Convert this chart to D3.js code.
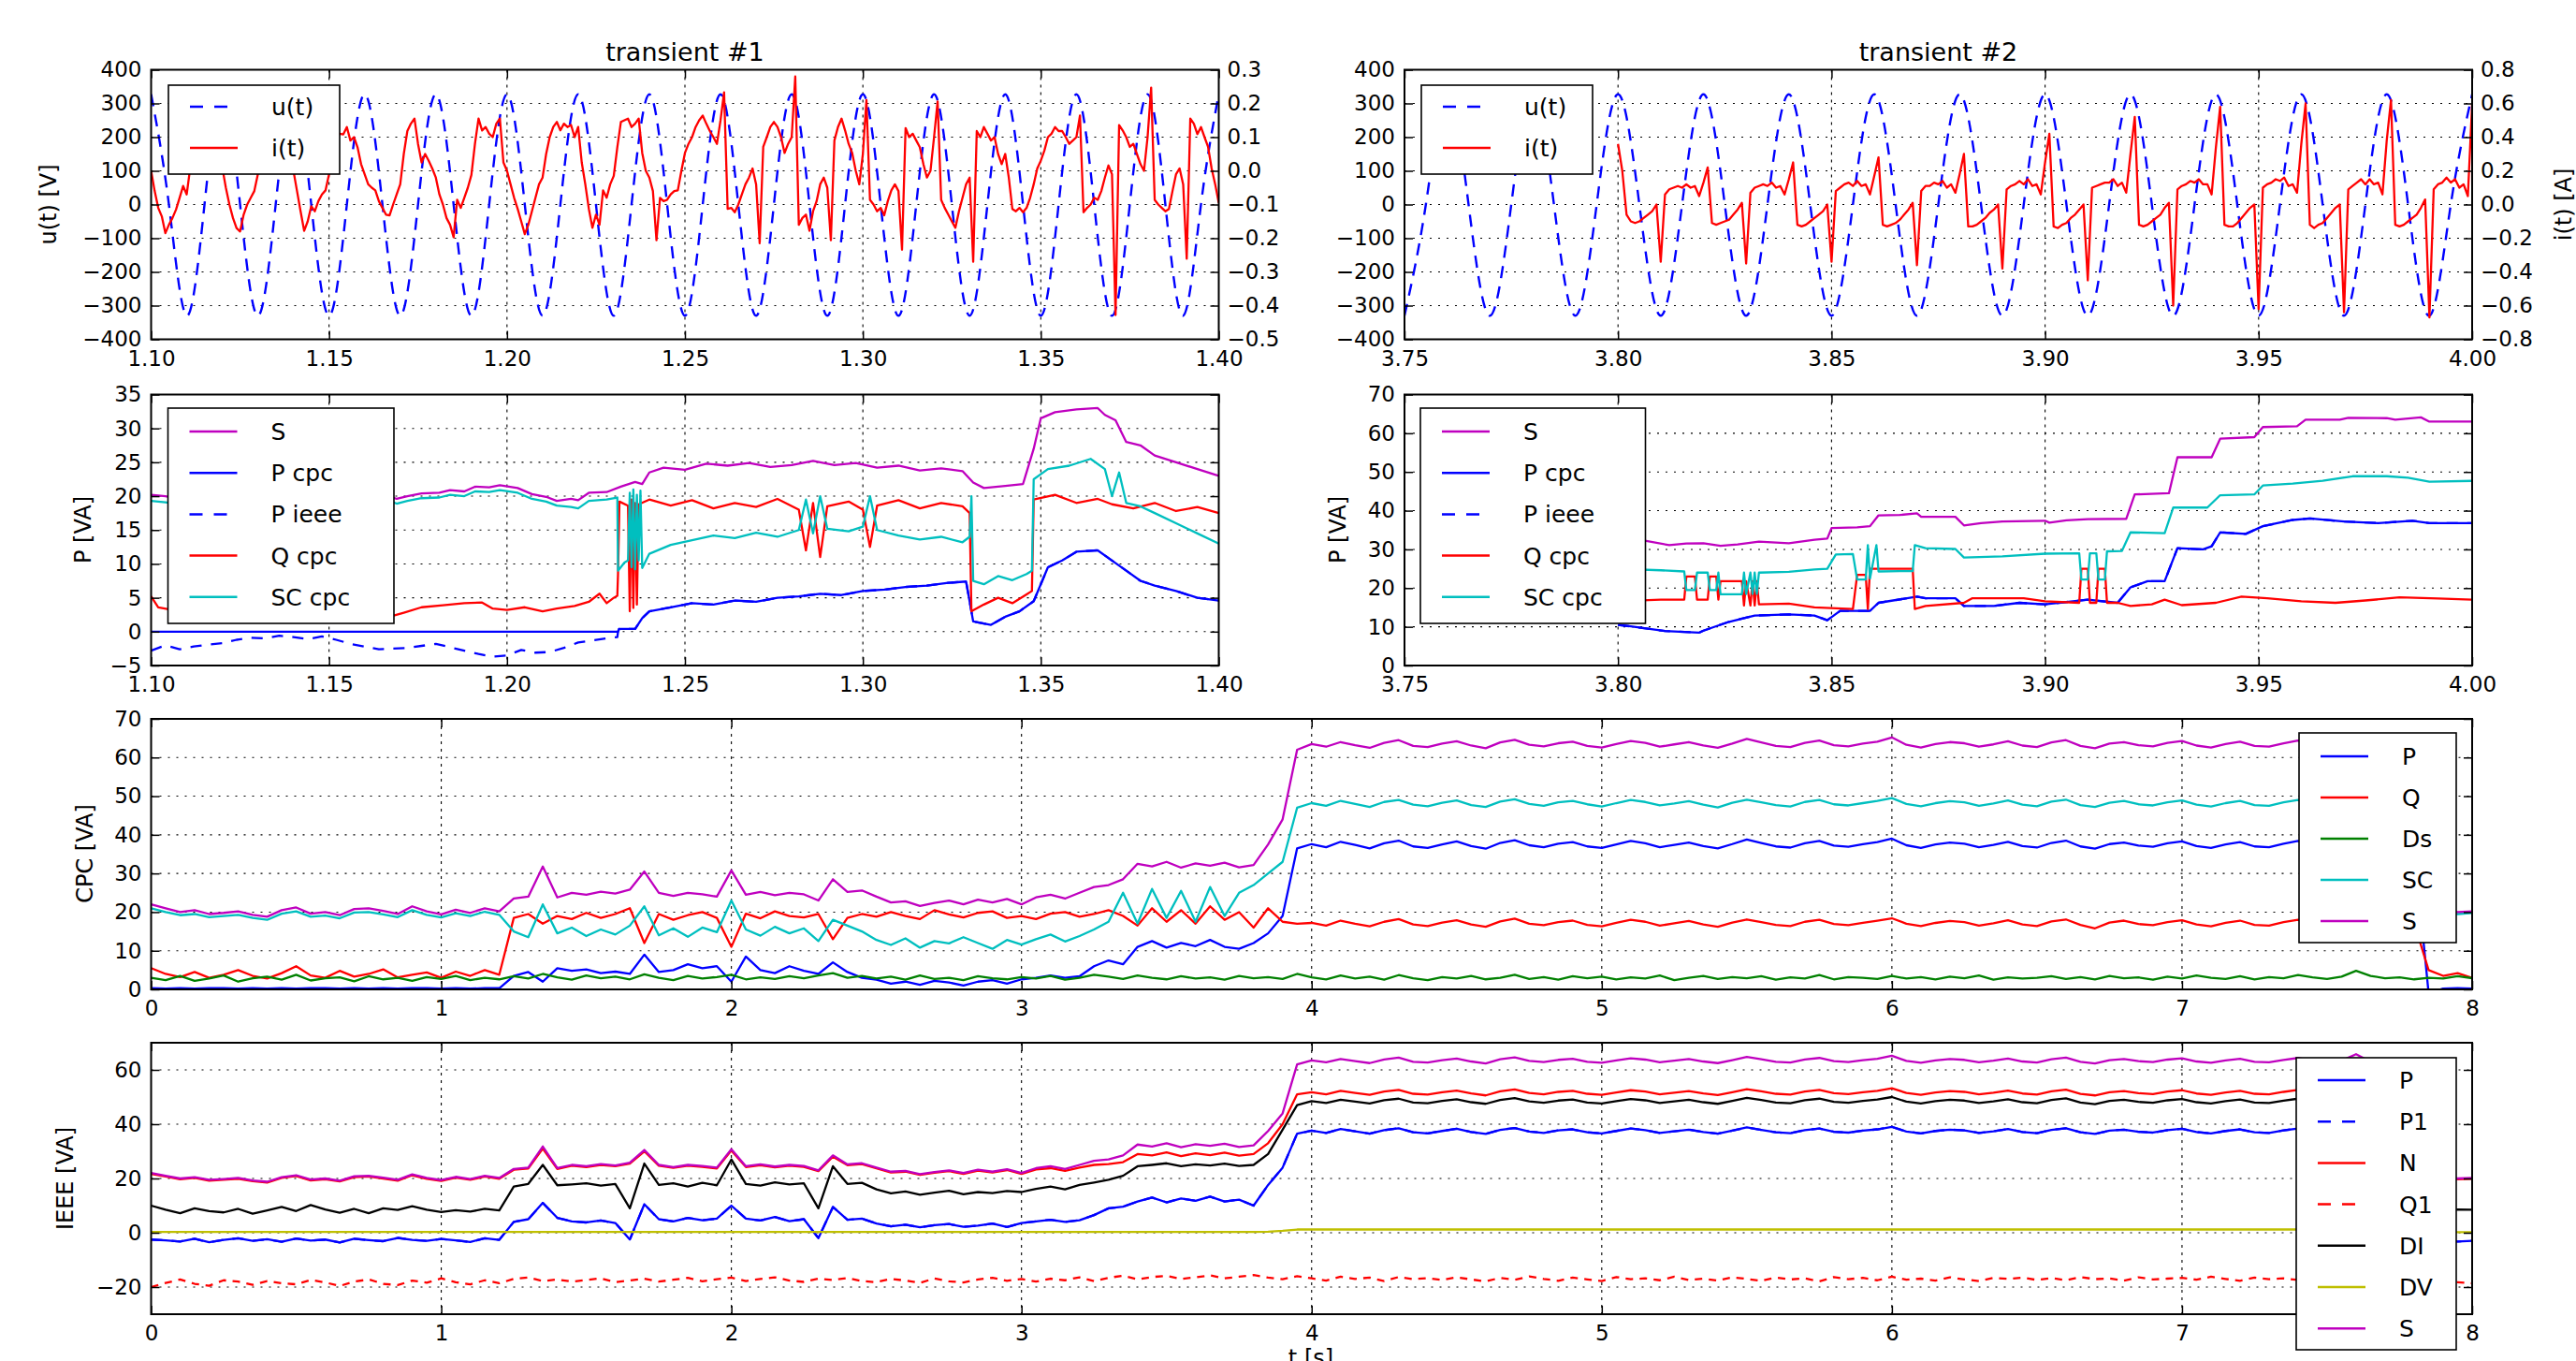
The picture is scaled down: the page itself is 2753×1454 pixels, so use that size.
<!DOCTYPE html>
<html>
<head>
<meta charset="utf-8">
<script src="https://cdn.jsdelivr.net/npm/d3@7/dist/d3.min.js"></script>
<style>
body{margin:0;background:#fff;}
svg text{font-family:"DejaVu Sans",sans-serif;fill:#000;}
</style>
</head>
<body>
<script>
// ---------- transient #1 : 1.10 .. 1.40 s ----------
var u1Start = 1.10, uStep = 0.005;          // supply voltage every 5 ms [V]
var u1 = [327,0,-330,0, 327,0,-330,0, 327,0,-330,0, 327,0,-330,0, 327,0,-330,0,
          327,0,-330,0, 327,0,-330,0, 327,0,-330,0, 327,0,-330,0, 327,0,-330,0,
          327,0,-330,0, 327,0,-330,0, 327,0,-330,0, 327,0,-330,0, 327,0,-330,0, 327];
var i1Start = 1.100, iStep = 0.001;         // load current every 1 ms [mA]
var i1 = [
  0,-60,-110,-135,-185,-160,-140,-115,-80,-45,-70,10,90,130,110,140,100,120,70,50,
  10,-50,-100,-140,-170,-180,-130,-100,-80,-60,-10,60,120,150,130,110,140,90,60,20,
  0,-60,-120,-178,-150,-105,-120,-90,-70,-58,-10,50,100,110,108,130,90,100,70,20,
  -10,-40,-50,-58,-90,-110,-130,-132,-100,-70,-40,50,118,140,155,80,25,50,30,7,
  -20,-70,-100,-140,-160,-197,-86,-110,-80,-50,-12,80,155,120,130,110,100,140,155,25,
  0,-40,-80,-113,-150,-188,-160,-120,-80,-40,-20,50,100,130,145,120,140,130,136,100,
  130,25,-40,-113,-169,-130,-160,-58,-80,-40,-15,70,145,150,155,130,140,155,53,0,
  -20,-60,-206,-80,-90,-86,-70,-60,-58,0,53,80,100,130,150,164,140,118,100,80,
  150,233,-113,-110,-123,-100,-70,-40,-20,7,-40,-215,71,100,130,145,130,100,53,80,
  100,280,-160,-140,-130,-178,-120,-90,-40,-20,-50,-206,90,130,155,120,80,53,0,-40,
  50,210,-86,-100,-120,-110,-132,-90,-58,-40,-60,-234,127,100,110,90,70,20,-20,0,
  100,206,-86,-110,-130,-150,-169,-120,-80,-40,-20,-270,118,100,130,110,90,100,50,20,
  50,-20,-113,-120,-110,-123,-110,-80,-40,7,30,60,100,110,130,118,118,100,80,90,
  100,164,-123,-110,-100,-80,-86,-60,-20,16,-10,-428,136,120,100,71,80,50,20,0,
  100,247,-86,-100,-110,-120,-113,-60,-10,7,-40,-261,155,140,109,130,100,71,7,-40,
  -95];

// powers during transient #1 [t, VA]
var tr1S = [[1.100,20.2],[1.104,20.0],[1.108,19.6],[1.114,19.4],[1.120,19.8],[1.126,19.5],[1.132,20.0],[1.138,19.7],[1.144,20.3],[1.150,20.4],[1.154,20.1],[1.157,19.6],[1.161,20.3],[1.166,20.2],[1.169,19.6],[1.172,20.0],[1.176,20.4],[1.181,20.5],[1.184,20.9],[1.188,20.7],[1.191,21.4],[1.195,21.3],[1.198,21.6],[1.203,21.2],[1.207,20.3],[1.211,19.9],[1.214,19.3],[1.218,19.6],[1.220,19.4],[1.223,20.5],[1.228,20.6],[1.232,21.4],[1.236,22.1],[1.238,21.8],[1.240,23.5],[1.244,24.2],[1.250,23.9],[1.256,24.8],[1.262,24.5],[1.268,24.9],[1.274,24.3],[1.280,24.6],[1.286,25.2],[1.292,24.6],[1.298,24.9],[1.304,24.2],[1.310,24.5],[1.316,23.8],[1.322,24.1],[1.328,23.7],[1.331,22.0],[1.334,21.2],[1.340,21.5],[1.345,21.8],[1.348,27.0],[1.350,31.5],[1.354,32.4],[1.360,32.8],[1.366,33.0],[1.368,32.0],[1.371,31.2],[1.374,28.0],[1.378,27.5],[1.382,26.0],[1.388,25.0],[1.394,24.0],[1.400,23.0]];
var tr1Pcpc = [[1.100,0],[1.2312,0],[1.2315,0.4],[1.236,0.4],[1.238,2.0],[1.240,3.0],[1.246,3.6],[1.252,4.2],[1.258,4.0],[1.264,4.6],[1.270,4.4],[1.276,5.0],[1.282,5.2],[1.288,5.6],[1.294,5.4],[1.300,6.0],[1.306,6.2],[1.312,6.6],[1.318,6.8],[1.324,7.2],[1.329,7.4],[1.331,1.5],[1.336,1.0],[1.340,2.2],[1.344,3.0],[1.348,4.5],[1.352,9.5],[1.356,10.5],[1.360,11.8],[1.366,12.0],[1.370,10.5],[1.374,9.0],[1.378,7.5],[1.382,6.8],[1.388,6.0],[1.394,5.0],[1.400,4.6]];
var tr1PieeeHead = [[1.100,-2.8],[1.104,-2.0],[1.108,-2.6],[1.112,-2.2],[1.116,-1.9],[1.120,-1.7],[1.124,-1.2],[1.128,-0.9],[1.132,-1.0],[1.136,-0.6],[1.140,-0.8],[1.144,-1.1],[1.148,-0.7],[1.152,-1.2],[1.156,-1.8],[1.160,-2.2],[1.164,-2.6],[1.168,-2.5],[1.172,-2.4],[1.176,-2.1],[1.180,-1.8],[1.184,-2.3],[1.188,-2.8],[1.192,-3.3],[1.196,-3.7],[1.200,-3.5],[1.204,-2.7],[1.208,-3.1],[1.212,-3.0],[1.216,-2.4],[1.220,-1.6],[1.224,-1.3],[1.228,-1.0],[1.231,-0.8]];
var tr1Q = [[1.100,5.2],[1.102,3.6],[1.106,3.2],[1.112,3.8],[1.118,3.4],[1.124,3.0],[1.130,3.6],[1.136,3.2],[1.142,3.5],[1.148,3.0],[1.153,3.2],[1.158,3.0],[1.163,2.6],[1.167,2.2],[1.171,2.8],[1.176,3.6],[1.182,3.9],[1.188,4.2],[1.193,4.3],[1.196,3.4],[1.200,3.2],[1.205,3.6],[1.210,3.0],[1.214,3.4],[1.219,3.8],[1.223,4.4],[1.226,5.6],[1.228,4.2],[1.230,5.0],[1.2310,5.3],[1.2312,8.5],[1.2316,19.2],[1.234,18.6],[1.2345,3.0],[1.235,19.5],[1.2355,3.5],[1.236,19.0],[1.2365,4.0],[1.237,18.8],[1.240,19.5],[1.246,18.6],[1.252,19.4],[1.258,18.2],[1.264,19.0],[1.270,18.4],[1.276,19.6],[1.282,18.0],[1.284,12.0],[1.286,19.0],[1.288,11.0],[1.290,18.5],[1.296,19.2],[1.300,18.0],[1.302,12.5],[1.304,18.6],[1.310,19.4],[1.316,18.2],[1.322,19.0],[1.328,18.5],[1.330,17.5],[1.3305,3.0],[1.334,4.0],[1.338,5.0],[1.342,4.2],[1.346,5.5],[1.3475,6.0],[1.348,19.5],[1.354,20.2],[1.360,19.0],[1.366,19.6],[1.370,18.8],[1.376,18.2],[1.382,19.0],[1.388,17.8],[1.394,18.4],[1.400,17.5]];
var tr1SC = [[1.100,19.3],[1.104,19.1],[1.108,18.8],[1.114,18.7],[1.120,19.1],[1.126,18.9],[1.132,19.3],[1.138,19.0],[1.144,19.6],[1.150,19.7],[1.154,19.4],[1.157,18.9],[1.161,19.6],[1.166,19.5],[1.169,18.9],[1.172,19.3],[1.176,19.7],[1.181,19.8],[1.184,20.2],[1.188,20.0],[1.191,20.7],[1.195,20.6],[1.198,20.9],[1.203,20.5],[1.207,19.6],[1.211,19.2],[1.214,18.6],[1.218,18.4],[1.220,18.2],[1.223,19.3],[1.228,19.5],[1.231,19.8],[1.2312,9.0],[1.233,10.2],[1.234,10.5],[1.2345,20.5],[1.235,9.5],[1.2355,21.0],[1.236,9.2],[1.2365,20.2],[1.237,10.5],[1.2375,20.8],[1.238,9.4],[1.240,11.5],[1.246,12.8],[1.252,13.5],[1.258,14.2],[1.264,13.8],[1.270,14.6],[1.276,14.0],[1.282,15.0],[1.284,19.5],[1.286,14.5],[1.288,20.0],[1.290,15.2],[1.296,14.8],[1.300,15.5],[1.302,20.0],[1.304,15.0],[1.310,14.2],[1.316,13.6],[1.322,14.0],[1.328,13.2],[1.330,14.0],[1.3305,20.0],[1.331,7.5],[1.334,7.0],[1.338,8.2],[1.342,7.6],[1.346,8.5],[1.3475,9.0],[1.348,22.5],[1.352,24.0],[1.358,24.5],[1.364,25.5],[1.368,24.0],[1.370,20.0],[1.372,23.5],[1.374,19.0],[1.378,18.5],[1.382,17.5],[1.388,16.0],[1.394,14.5],[1.400,13.0]];

// ---------- transient #2 : 3.75 .. 4.00 s ----------
var u2Start = 3.75;
var u2 = [-330,0,327,0, -330,0,327,0, -330,0,327,0, -330,0,327,0, -330,0,327,0, -330,0,327,0,
          -330,0,327,0, -330,0,327,0, -330,0,327,0, -330,0,327,0, -330,0,327,0, -330,0,327,0, -330,0,327];
var i2Start = 3.800;                         // [mA], every 1 ms
var i2 = [
  360,200,-60,-100,-110,-100,-80,-60,-40,0,-340,60,90,100,110,100,120,100,110,50,
  130,220,-110,-120,-110,-100,-90,-60,-30,10,-350,70,100,110,120,110,130,100,110,60,
  150,250,-120,-130,-120,-100,-80,-60,-40,0,-340,80,100,120,130,110,140,110,120,60,
  170,280,-120,-130,-120,-110,-90,-60,-30,10,-360,80,110,110,130,120,140,100,120,70,
  180,300,-130,-130,-120,-100,-80,-50,-30,0,-380,90,110,120,140,120,150,110,120,60,
  250,420,-130,-140,-120,-110,-80,-60,-30,0,-450,100,110,120,130,130,150,110,130,70,
  300,520,-120,-130,-120,-100,-80,-60,-20,10,-600,90,110,120,140,130,150,120,120,60,
  340,580,-120,-130,-130,-110,-80,-50,-20,0,-620,100,120,130,150,140,160,110,120,70,
  360,600,-120,-140,-120,-110,-80,-50,-20,0,-640,90,110,130,150,120,150,120,130,60,
  380,620,-120,-130,-120,-100,-80,-60,-20,30,-670,90,120,130,160,130,150,100,120,50,
  600];

var tr2S = [[3.800,32.5],[3.806,32.3],[3.812,31.1],[3.816,31.5],[3.820,31.6],[3.824,30.9],[3.828,31.3],[3.833,32.0],[3.840,31.6],[3.846,32.5],[3.849,32.8],[3.850,35.5],[3.856,35.7],[3.859,36.0],[3.861,38.8],[3.866,38.9],[3.870,39.3],[3.871,38.4],[3.879,38.4],[3.881,36.2],[3.885,36.8],[3.890,37.2],[3.900,37.4],[3.901,36.9],[3.905,37.5],[3.910,37.8],[3.919,37.9],[3.921,44.2],[3.929,44.5],[3.931,53.8],[3.939,53.8],[3.941,58.6],[3.949,59.0],[3.951,61.6],[3.959,61.8],[3.961,63.5],[3.969,63.5],[3.971,64.0],[3.980,63.9],[3.982,63.5],[3.988,64.1],[3.990,63.0],[4.000,63.0]];
var tr2P = [[3.800,10.5],[3.803,10.1],[3.811,8.9],[3.819,8.5],[3.820,9.0],[3.826,11.3],[3.832,12.9],[3.840,13.2],[3.846,12.9],[3.849,11.7],[3.852,14.1],[3.859,14.1],[3.861,16.2],[3.870,17.8],[3.872,17.4],[3.879,17.4],[3.881,15.4],[3.888,15.4],[3.894,16.2],[3.900,15.8],[3.910,17.0],[3.917,16.2],[3.920,20.2],[3.924,21.8],[3.928,21.8],[3.931,30.3],[3.937,30.0],[3.939,30.8],[3.941,34.4],[3.947,34.0],[3.951,36.0],[3.958,37.6],[3.962,38.0],[3.970,37.2],[3.978,36.8],[3.986,37.4],[3.990,36.8],[4.000,36.8]];
var tr2Q = [[3.800,16.6],[3.810,17.0],[3.8155,17.0],[3.816,23.0],[3.818,23.0],[3.8185,17.0],[3.821,17.0],[3.8215,23.0],[3.823,23.0],[3.8235,17.0],[3.824,21.8],[3.829,21.8],[3.8295,15.5],[3.830,21.8],[3.831,15.5],[3.8315,21.8],[3.832,15.5],[3.8325,21.8],[3.833,15.8],[3.840,16.0],[3.846,15.0],[3.855,14.6],[3.856,23.4],[3.858,23.4],[3.8585,14.6],[3.859,25.0],[3.869,25.0],[3.8695,14.6],[3.872,15.4],[3.881,16.2],[3.883,17.4],[3.895,17.4],[3.900,16.6],[3.908,16.2],[3.9085,25.0],[3.910,25.0],[3.9105,16.2],[3.912,16.2],[3.9125,25.0],[3.914,25.0],[3.9145,16.2],[3.917,16.2],[3.920,15.4],[3.925,15.8],[3.928,17.0],[3.932,15.6],[3.940,16.2],[3.946,17.8],[3.952,17.4],[3.960,16.6],[3.968,16.2],[3.975,16.8],[3.983,17.6],[3.992,17.3],[4.000,17.0]];
var tr2SC = [[3.800,25.0],[3.810,24.6],[3.8155,24.3],[3.816,19.5],[3.818,19.5],[3.8185,24.0],[3.821,24.0],[3.8215,19.5],[3.823,19.5],[3.8235,24.0],[3.824,18.4],[3.829,18.4],[3.8295,24.0],[3.830,18.5],[3.831,24.0],[3.8315,18.5],[3.832,24.0],[3.8325,18.5],[3.833,24.0],[3.840,24.2],[3.846,24.8],[3.849,25.0],[3.851,28.7],[3.855,28.8],[3.856,22.2],[3.858,22.2],[3.8585,31.1],[3.859,22.5],[3.8605,31.1],[3.861,24.3],[3.866,24.4],[3.869,24.4],[3.8695,31.1],[3.872,30.3],[3.879,30.1],[3.881,27.9],[3.890,28.2],[3.900,28.9],[3.908,29.0],[3.9085,22.2],[3.910,22.2],[3.9105,29.0],[3.912,29.0],[3.9125,22.2],[3.914,22.2],[3.9145,29.5],[3.918,29.6],[3.920,34.4],[3.928,34.2],[3.930,40.8],[3.938,40.8],[3.941,44.0],[3.949,44.2],[3.951,46.5],[3.958,47.0],[3.965,47.7],[3.972,48.9],[3.980,48.9],[3.985,48.5],[3.990,47.5],[4.000,47.7]];

// ---------- whole record 0 .. 8 s, every 50 ms [VA] ----------
var recStep = 0.05;
var recS = [
  22.0,21.0,20.0,20.5,19.5,19.8,20.2,19.3,18.8,20.5,
  21.2,19.6,20.0,19.2,20.8,21.0,20.3,19.5,21.5,20.2,
  19.4,20.6,19.8,21.0,20.2,23.5,24.0,31.8,23.8,25.0,
  24.5,25.3,24.8,25.8,30.5,25.0,24.2,25.0,24.6,24.0,
  30.8,24.5,25.2,24.4,25.0,24.6,23.0,28.5,25.2,25.6,
  24.0,22.5,22.8,21.6,22.4,23.0,22.0,23.2,22.5,23.4,
  22.0,23.8,24.5,23.5,25.0,26.5,27.0,28.5,32.5,31.8,
  33.0,31.5,32.6,32.0,32.8,31.6,32.2,37.5,44.0,62.0,
  63.5,62.8,64.0,63.2,62.5,63.8,64.5,63.0,62.7,63.6,
  64.2,63.1,62.4,63.9,64.6,63.3,62.9,63.7,64.1,63.0,
  62.6,63.5,64.3,63.8,62.8,63.4,64.0,63.1,62.5,63.6,
  64.8,63.9,63.0,62.7,63.8,64.4,63.2,62.9,63.6,64.1,
  65.2,63.3,62.6,63.5,64.0,63.7,62.8,63.4,64.2,63.1,
  62.7,63.9,64.5,63.0,62.4,63.6,64.0,63.2,62.9,63.8,
  64.3,63.1,62.6,63.5,64.1,63.0,62.8,63.7,64.4,63.2,
  62.5,63.4,65.8,63.0,63.6,62.8,63.0,21.0,20.5,20.0,
  20.2];
var cpcSC = [
  21.0,20.0,19.2,19.5,18.7,19.0,19.3,18.5,18.0,19.6,
  20.2,18.8,19.1,18.4,19.9,20.0,19.4,18.7,20.5,19.3,
  18.6,19.7,19.0,20.1,19.3,15.0,13.5,22.0,14.5,16.0,
  13.8,15.5,14.2,16.5,21.5,14.0,15.8,13.6,16.0,14.8,
  23.0,15.5,13.9,16.2,14.5,15.8,12.5,18.0,16.5,15.0,
  12.8,11.5,13.2,10.8,12.5,11.9,13.5,12.0,10.5,12.8,
  11.6,13.0,14.2,12.4,13.8,15.5,17.5,25.0,17.0,26.0,
  18.5,25.5,17.5,26.5,19.0,25.0,27.0,30.0,33.0,47.0,
  48.2,47.5,48.8,48.0,47.2,48.5,49.0,47.8,47.4,48.3,
  48.9,47.7,47.2,48.6,49.2,48.0,47.5,48.4,48.8,47.9,
  47.3,48.2,49.0,48.5,47.6,48.1,48.7,47.8,47.1,48.3,
  49.1,48.4,47.7,47.3,48.5,49.0,47.9,47.6,48.2,48.8,
  49.5,48.0,47.4,48.2,48.7,48.4,47.5,48.1,48.9,47.8,
  47.4,48.6,49.1,47.7,47.2,48.3,48.8,47.9,47.6,48.4,
  48.9,47.8,47.3,48.2,48.8,47.7,47.5,48.4,49.0,47.9,
  47.2,48.1,49.3,47.8,48.3,47.6,47.9,20.5,20.0,19.5,
  19.8];
var cpcQ = [
  5.5,4.0,3.2,4.5,3.0,3.8,5.0,3.5,2.8,4.2,
  6.0,3.6,3.0,4.8,3.3,4.0,5.2,3.1,3.8,4.4,
  3.0,4.6,3.5,5.0,3.8,18.5,19.5,17.0,19.0,18.2,
  19.8,18.5,19.5,21.0,12.0,19.5,18.0,19.2,20.0,18.5,
  11.0,19.6,18.4,20.2,19.0,18.6,19.5,13.0,18.5,19.5,
  18.8,20.0,19.0,18.2,20.5,19.4,18.6,19.8,20.2,18.5,
  19.0,18.2,19.6,20.0,18.8,19.5,20.5,19.0,16.5,21.0,
  17.5,20.5,17.0,21.5,18.0,20.0,16.0,21.0,17.5,17.0,
  17.2,16.5,17.8,17.0,16.3,17.5,18.2,16.8,16.4,17.3,
  17.9,16.8,16.2,17.6,18.3,17.0,16.6,17.4,17.8,16.7,
  16.3,17.2,18.0,17.5,16.5,17.1,17.7,16.8,16.2,17.3,
  18.1,17.4,16.7,16.4,17.5,18.0,16.9,16.6,17.2,17.8,
  18.4,17.0,16.4,17.2,17.7,17.4,16.5,17.1,17.9,16.8,
  16.4,17.6,18.1,16.7,15.8,17.3,17.8,16.9,16.6,17.4,
  17.9,16.8,16.3,17.2,17.8,16.7,16.5,17.4,18.0,16.9,
  16.2,17.1,18.0,16.8,17.3,16.6,17.2,5.0,3.5,4.2,
  3.0];
var cpcP = [
  0.3,0.2,0.3,0.2,0.3,0.3,0.2,0.3,0.2,0.3,
  0.2,0.3,0.3,0.2,0.3,0.2,0.3,0.2,0.3,0.3,
  0.2,0.3,0.2,0.3,0.3,3.5,4.5,2.0,5.5,4.8,
  5.2,4.2,4.6,4.0,9.0,4.5,5.0,6.5,5.5,6.0,
  2.0,8.5,5.0,4.2,6.0,4.8,4.0,7.0,4.5,3.0,
  2.5,1.5,2.0,1.2,2.2,1.8,1.0,2.0,2.4,1.5,
  2.6,3.0,3.6,3.0,3.4,6.0,7.5,6.5,11.0,12.5,
  10.8,12.0,11.2,12.8,11.0,10.5,12.0,14.5,19.0,36.5,
  37.6,36.8,38.2,37.4,36.5,37.8,38.5,37.0,36.6,37.5,
  38.3,37.1,36.4,37.9,38.6,37.3,36.8,37.7,38.1,37.0,
  36.6,37.5,38.4,37.8,36.8,37.4,38.0,37.1,36.5,37.6,
  38.8,37.9,37.0,36.7,37.8,38.4,37.2,36.9,37.6,38.1,
  39.0,37.3,36.6,37.5,38.0,37.7,36.8,37.4,38.2,37.1,
  36.7,37.9,38.5,37.0,36.4,37.6,38.0,37.2,36.9,37.8,
  38.3,37.1,36.6,37.5,38.1,37.0,36.8,37.7,38.4,37.2,
  36.5,37.4,38.0,37.0,37.6,36.8,37.0,-1.0,0.2,0.3,
  0.2];
var cpcDs = [
  3.0,2.4,3.5,2.2,2.8,3.6,2.0,2.9,3.3,2.5,
  3.8,2.3,2.9,3.1,2.1,3.4,2.6,3.0,2.2,3.2,
  2.7,3.5,2.4,3.0,2.6,3.4,2.8,4.0,3.1,2.5,
  3.6,2.9,3.3,2.6,3.9,3.0,2.4,3.5,2.8,3.2,
  3.8,2.6,3.1,2.7,3.4,2.9,3.6,4.2,3.0,3.5,
  2.8,3.3,2.5,3.6,2.7,3.0,2.4,3.4,2.9,2.6,
  3.2,2.8,3.5,2.5,3.0,3.8,3.3,2.7,3.6,3.0,
  2.6,3.4,2.8,3.1,2.5,3.5,2.9,3.2,2.7,4.0,
  3.1,2.6,3.6,2.8,3.3,2.5,3.7,2.9,2.4,3.2,
  2.8,3.5,2.6,3.0,3.8,2.7,3.2,2.5,3.4,2.9,
  3.3,2.6,3.1,2.8,3.6,2.4,3.0,3.5,2.7,3.2,
  2.9,3.4,2.5,3.1,2.8,3.7,2.6,3.2,3.0,2.7,
  3.5,2.8,3.2,2.6,3.3,2.9,3.6,2.5,3.1,2.8,
  3.0,3.4,2.7,3.2,2.6,3.5,2.9,3.1,2.5,3.3,
  2.8,3.6,3.0,2.7,3.4,2.6,3.2,2.9,3.7,3.1,
  2.7,3.3,4.8,3.5,2.9,3.1,2.6,3.0,2.8,3.4,
  2.9];
var ieeeP = [
  -2.5,-2.8,-3.2,-2.2,-3.5,-2.6,-2.0,-3.0,-2.4,-3.3,
  -2.1,-2.9,-2.5,-3.6,-2.2,-2.7,-3.1,-1.9,-2.6,-3.0,
  -2.3,-2.8,-3.4,-2.0,-2.6,4.0,5.0,11.0,5.5,4.2,
  3.8,4.5,3.6,-2.5,10.5,5.0,4.2,5.5,4.6,5.2,
  10.0,5.2,4.5,5.8,4.3,5.0,-2.0,9.5,4.8,5.2,
  3.4,2.4,3.0,2.0,2.8,3.2,2.2,2.6,3.4,2.1,
  3.6,4.2,4.8,4.0,4.6,6.5,9.0,9.6,11.5,13.0,
  11.2,12.6,11.8,13.3,11.5,12.2,10.0,17.6,24.0,36.5,
  37.6,36.8,38.2,37.4,36.5,37.8,38.5,37.0,36.6,37.5,
  38.3,37.1,36.4,37.9,38.6,37.3,36.8,37.7,38.1,37.0,
  36.6,37.5,38.4,37.8,36.8,37.4,38.0,37.1,36.5,37.6,
  38.8,37.9,37.0,36.7,37.8,38.4,37.2,36.9,37.6,38.1,
  39.0,37.3,36.6,37.5,38.0,37.7,36.8,37.4,38.2,37.1,
  36.7,37.9,38.5,37.0,36.4,37.6,38.0,37.2,36.9,37.8,
  38.3,37.1,36.6,37.5,38.1,37.0,36.8,37.7,38.4,37.2,
  36.5,37.4,38.0,37.0,37.6,36.8,37.0,-3.0,-2.8,-3.2,
  -3.0];
var ieeeN = [
  21.7,20.7,19.7,20.2,19.2,19.5,19.9,19.0,18.5,20.2,
  20.9,19.3,19.7,18.9,20.5,20.7,20.0,19.2,21.2,19.9,
  19.1,20.3,19.5,20.7,19.9,23.2,23.7,31.0,23.5,24.7,
  24.2,25.0,24.5,25.5,30.0,24.7,23.9,24.7,24.3,23.7,
  30.3,24.2,24.9,24.1,24.7,24.3,22.7,28.0,24.9,25.3,
  23.7,22.2,22.5,21.3,22.1,22.7,21.7,22.9,22.2,23.1,
  21.7,23.3,23.8,22.8,24.0,25.0,25.3,26.0,29.0,28.5,
  29.6,28.2,29.3,28.6,29.5,28.4,29.0,33.0,40.0,51.0,
  51.8,51.0,52.3,51.5,50.8,52.0,52.6,51.2,50.9,51.8,
  52.4,51.3,50.6,52.1,52.8,51.5,51.0,51.9,52.3,51.2,
  50.8,51.7,52.5,52.0,51.0,51.6,52.2,51.3,50.7,51.8,
  52.9,52.1,51.2,50.9,52.0,52.6,51.4,51.1,51.8,52.3,
  53.2,51.5,50.8,51.7,52.2,51.9,51.0,51.6,52.4,51.3,
  50.9,52.1,52.7,51.2,50.6,51.8,52.2,51.4,51.1,52.0,
  52.5,51.3,50.8,51.7,52.3,51.2,51.0,51.9,52.6,51.4,
  50.7,51.6,53.5,51.2,51.8,51.0,51.2,20.7,20.2,19.7,
  19.9];
var ieeeQ1 = [
  -20.0,-18.5,-17.2,-18.8,-19.5,-17.5,-18.0,-19.2,-17.8,-18.6,
  -19.0,-17.4,-18.3,-19.6,-18.0,-17.2,-18.8,-19.3,-17.6,-18.4,
  -16.8,-18.2,-19.0,-17.5,-18.6,-17.0,-16.5,-17.8,-17.2,-18.0,
  -17.4,-16.8,-18.2,-17.6,-16.9,-18.0,-17.3,-16.6,-17.9,-17.1,
  -16.5,-17.8,-17.0,-16.4,-17.6,-18.1,-16.9,-17.4,-16.7,-17.8,
  -18.2,-17.0,-17.6,-18.5,-16.8,-17.9,-18.3,-17.2,-16.6,-17.7,
  -17.0,-18.0,-16.9,-17.5,-16.4,-17.8,-16.6,-15.8,-17.2,-16.3,
  -15.9,-17.0,-16.4,-15.7,-16.8,-16.2,-15.6,-16.5,-17.1,-16.0,
  -16.8,-17.6,-16.2,-17.0,-16.5,-17.8,-16.3,-17.1,-16.7,-17.4,
  -16.4,-17.2,-17.9,-16.6,-17.3,-16.1,-17.0,-17.7,-16.5,-17.2,
  -17.8,-16.3,-17.1,-16.8,-17.5,-16.2,-17.4,-16.9,-17.6,-16.4,
  -17.0,-17.7,-16.5,-17.2,-16.8,-17.9,-16.3,-17.1,-16.6,-17.5,
  -16.2,-17.3,-16.9,-17.6,-16.4,-17.2,-17.8,-16.6,-17.0,-16.5,
  -17.4,-16.7,-17.5,-16.3,-17.1,-16.8,-17.6,-16.4,-17.2,-16.9,
  -16.6,-17.3,-16.2,-17.0,-17.7,-16.5,-17.1,-16.8,-17.4,-16.3,
  -15.8,-17.0,-16.4,-17.3,-16.9,-17.2,-16.6,-18.5,-19.0,-18.2,
  -18.6];
var ieeeDI = [
  10.0,8.5,7.2,9.0,8.0,7.5,8.8,7.0,8.2,9.5,
  8.0,10.2,8.6,7.4,8.8,7.2,9.0,8.4,9.8,8.5,
  7.6,8.3,7.8,8.8,8.2,17.0,18.0,25.0,17.5,17.8,
  18.2,17.4,18.0,9.0,25.5,17.6,18.2,17.0,18.4,17.5,
  27.0,18.0,17.4,18.6,17.8,18.2,9.0,24.5,18.0,18.4,
  16.0,14.5,15.2,14.0,14.8,15.5,14.2,15.0,14.6,15.4,
  15.0,16.2,17.0,16.0,17.6,18.5,19.5,21.0,24.5,25.0,
  25.6,24.5,25.2,24.8,25.5,24.6,25.0,29.0,38.0,47.0,
  48.5,47.8,49.0,48.3,47.6,48.8,49.4,48.0,47.7,48.6,
  49.2,48.1,47.5,48.9,49.6,48.4,47.9,48.7,49.1,48.0,
  47.6,48.5,49.3,48.8,47.8,48.4,49.0,48.1,47.5,48.6,
  49.7,48.9,48.0,47.7,48.8,49.4,48.2,47.9,48.6,49.1,
  50.0,48.3,47.6,48.5,49.0,48.7,47.8,48.4,49.2,48.1,
  47.7,48.9,49.5,48.0,47.4,48.6,49.0,48.2,47.9,48.8,
  49.3,48.1,47.6,48.5,49.1,48.0,47.8,48.7,49.4,48.2,
  47.5,48.4,49.8,48.0,48.6,47.8,48.0,8.8,8.2,8.6,
  8.5];
var ieeeDV = [
  0.3,0.3,0.3,0.3,0.3,0.3,0.3,0.3,0.3,0.3,
  0.3,0.3,0.3,0.3,0.3,0.3,0.3,0.3,0.3,0.3,
  0.3,0.3,0.3,0.3,0.3,0.3,0.3,0.3,0.3,0.3,
  0.3,0.3,0.3,0.3,0.3,0.3,0.3,0.3,0.3,0.3,
  0.3,0.3,0.3,0.3,0.3,0.3,0.3,0.3,0.3,0.3,
  0.3,0.3,0.3,0.3,0.3,0.3,0.3,0.3,0.3,0.3,
  0.3,0.3,0.3,0.3,0.3,0.3,0.3,0.3,0.3,0.3,
  0.3,0.3,0.3,0.3,0.3,0.3,0.3,0.4,0.7,1.2,
  1.2,1.2,1.2,1.2,1.2,1.2,1.2,1.2,1.2,1.2,
  1.2,1.2,1.2,1.2,1.2,1.2,1.2,1.2,1.2,1.2,
  1.2,1.2,1.2,1.2,1.2,1.2,1.2,1.2,1.2,1.2,
  1.2,1.2,1.2,1.2,1.2,1.2,1.2,1.2,1.2,1.2,
  1.2,1.2,1.2,1.2,1.2,1.2,1.2,1.2,1.2,1.2,
  1.2,1.2,1.2,1.2,1.2,1.2,1.2,1.2,1.2,1.2,
  1.2,1.2,1.2,1.2,1.2,1.2,1.2,1.2,1.2,1.2,
  1.2,1.2,1.2,1.2,1.2,1.2,1.2,0.2,0.2,0.2,
  0.2];

// ---------- ticks ----------
var tr1Ticks = [1.10,1.15,1.20,1.25,1.30,1.35,1.40];
var tr2Ticks = [3.75,3.80,3.85,3.90,3.95,4.00];
var uTicks = [-400,-300,-200,-100,0,100,200,300,400];
var i1Ticks = [-0.5,-0.4,-0.3,-0.2,-0.1,0.0,0.1,0.2,0.3];
var i2Ticks = [-0.8,-0.6,-0.4,-0.2,0.0,0.2,0.4,0.6,0.8];
var pw1Ticks = [-5,0,5,10,15,20,25,30,35];
var pw2Ticks = [0,10,20,30,40,50,60,70];
var recTicks = [0,1,2,3,4,5,6,7,8];
var cpcTicks = [0,10,20,30,40,50,60,70];
var ieeeTicks = [-20,0,20,40,60];

var BLUE="#0000ff", RED="#ff0000", GREEN="#008000", CYAN="#00bfbf", MAG="#bf00bf", YEL="#bfbf00", BLK="#000000";
var LW = 2.3;

var W = 2753, H = 1454;
var svg = d3.select("body").append("svg").attr("width", W).attr("height", H).style("display","block");
svg.append("rect").attr("width", W).attr("height", H).attr("fill", "#fff");

function seq(start, step, vals, k) {
  return vals.map(function(v, i){ return [start + i*step, v*(k||1)]; });
}

function panel(o) {
  var x = d3.scaleLinear().domain(o.xdom).range([o.x0, o.x1]);
  var y = d3.scaleLinear().domain(o.ydom).range([o.y1, o.y0]);
  var g = svg.append("g");
  var grid = g.append("g").attr("stroke", "#000").attr("stroke-width", 1.1);
  o.xt.forEach(function(v){
    var px = x(v);
    if (px > o.x0+2 && px < o.x1-2)
      grid.append("line").attr("x1",px).attr("x2",px).attr("y1",o.y0).attr("y2",o.y1).attr("stroke-dasharray","3,5");
  });
  o.yt.forEach(function(v){
    var py = y(v);
    if (py > o.y0+2 && py < o.y1-2)
      grid.append("line").attr("x1",o.x0).attr("x2",o.x1).attr("y1",py).attr("y2",py).attr("stroke-dasharray","2,7");
  });
  svg.append("clipPath").attr("id","clip"+o.id).append("rect")
     .attr("x",o.x0).attr("y",o.y0).attr("width",o.x1-o.x0).attr("height",o.y1-o.y0);
  var plot = g.append("g").attr("clip-path","url(#clip"+o.id+")");
  var frame = g.append("g");
  frame.append("rect").attr("x",o.x0).attr("y",o.y0).attr("width",o.x1-o.x0).attr("height",o.y1-o.y0)
       .attr("fill","none").attr("stroke","#000").attr("stroke-width",2);
  function ax(axis, tx, ty) {
    var a = frame.append("g").attr("transform","translate("+tx+","+ty+")").call(axis);
    a.select(".domain").remove();
    a.selectAll("line").attr("stroke","#000").attr("stroke-width",1.5);
    a.selectAll("text").attr("font-size",23).attr("font-family",'"DejaVu Sans",sans-serif').attr("fill","#000");
    return a;
  }
  var none = function(){ return ""; };
  ax(d3.axisBottom(x).tickValues(o.xt).tickFormat(d3.format(o.xf)).tickSizeInner(-9).tickSizeOuter(0).tickPadding(12), 0, o.y1);
  ax(d3.axisTop(x).tickValues(o.xt).tickFormat(none).tickSizeInner(-9).tickSizeOuter(0), 0, o.y0);
  ax(d3.axisLeft(y).tickValues(o.yt).tickFormat(d3.format("d")).tickSizeInner(-9).tickSizeOuter(0).tickPadding(10), o.x0, 0);
  var yr = null;
  if (o.right) {
    yr = d3.scaleLinear().domain(o.right.dom).range([o.y1, o.y0]);
    ax(d3.axisRight(yr).tickValues(o.right.ticks).tickFormat(d3.format(".1f")).tickSizeInner(-9).tickSizeOuter(0).tickPadding(9), o.x1, 0);
  } else {
    ax(d3.axisRight(y).tickValues(o.yt).tickFormat(none).tickSizeInner(-9).tickSizeOuter(0), o.x1, 0);
  }
  return {x:x, y:y, yr:yr, plot:plot};
}

function line(P, pts, color, opt) {
  opt = opt || {};
  var ys = opt.right ? P.yr : P.y;
  var gen = d3.line().x(function(d){ return P.x(d[0]); }).y(function(d){ return ys(d[1]); });
  if (opt.curve) gen.curve(opt.curve);
  P.plot.append("path").attr("d", gen(pts)).attr("fill","none").attr("stroke",color)
    .attr("stroke-width", opt.w || LW).attr("stroke-linejoin","round")
    .attr("stroke-dasharray", opt.dash || null);
}

function legend(b, items) {
  var g = svg.append("g");
  g.append("rect").attr("x",b.x).attr("y",b.y).attr("width",b.w).attr("height",b.h)
   .attr("fill","#fff").attr("stroke","#000").attr("stroke-width",1.6);
  items.forEach(function(it, i){
    var yy = b.y + b.off + i*b.gap;
    g.append("line").attr("x1",b.x+23).attr("x2",b.x+74).attr("y1",yy).attr("y2",yy)
     .attr("stroke",it.c).attr("stroke-width",2.5).attr("stroke-dasharray",it.dash || null);
    g.append("text").attr("x",b.x+110).attr("y",yy).attr("dy","0.36em").attr("font-size",25).text(it.l);
  });
}

function vlabel(txt, cx, cy) {
  svg.append("text").attr("transform","translate("+cx+","+cy+") rotate(-90)")
     .attr("text-anchor","middle").attr("dy","0.36em").attr("font-size",24).text(txt);
}

// ---------- panel 1 : transient #1 u, i ----------
var A = panel({id:1, x0:161.5, x1:1302.5, y0:74.5, y1:362.5, xdom:[1.10,1.40], ydom:[-400,400],
               xt:tr1Ticks, yt:uTicks, xf:".2f", right:{dom:[-0.5,0.3], ticks:i1Ticks}});
line(A, seq(u1Start, uStep, u1), BLUE, {dash:"13,9", w:2.4, curve:d3.curveNatural});
line(A, seq(i1Start, iStep, i1, 0.001), RED, {right:true});

// ---------- panel 2 : transient #2 u, i ----------
var B = panel({id:2, x0:1501, x1:2642, y0:74.5, y1:362.5, xdom:[3.75,4.00], ydom:[-400,400],
               xt:tr2Ticks, yt:uTicks, xf:".2f", right:{dom:[-0.8,0.8], ticks:i2Ticks}});
line(B, seq(u2Start, uStep, u2), BLUE, {dash:"13,9", w:2.4, curve:d3.curveNatural});
line(B, seq(i2Start, iStep, i2, 0.001), RED, {right:true});

// ---------- panel 3 : powers, transient #1 ----------
var C = panel({id:3, x0:161.5, x1:1302.5, y0:421.5, y1:711, xdom:[1.10,1.40], ydom:[-5,35],
               xt:tr1Ticks, yt:pw1Ticks, xf:".2f"});
var tr1Pieee = tr1PieeeHead.concat(tr1Pcpc.filter(function(d){ return d[0] >= 1.2312; }));
line(C, tr1S, MAG);
line(C, tr1Pcpc, BLUE);
line(C, tr1Pieee, BLUE, {dash:"12,10"});
line(C, tr1Q, RED);
line(C, tr1SC, CYAN);

// ---------- panel 4 : powers, transient #2 ----------
var D = panel({id:4, x0:1501, x1:2642, y0:421.5, y1:711, xdom:[3.75,4.00], ydom:[0,70],
               xt:tr2Ticks, yt:pw2Ticks, xf:".2f"});
line(D, tr2S, MAG);
line(D, tr2P, BLUE);
line(D, tr2P, BLUE, {dash:"12,10"});
line(D, tr2Q, RED);
line(D, tr2SC, CYAN);

// ---------- panel 5 : CPC ----------
var E = panel({id:5, x0:161.5, x1:2642, y0:768, y1:1057, xdom:[0,8], ydom:[0,70],
               xt:recTicks, yt:cpcTicks, xf:"d"});
line(E, seq(0, recStep, cpcP), BLUE);
line(E, seq(0, recStep, cpcQ), RED);
line(E, seq(0, recStep, cpcDs), GREEN);
line(E, seq(0, recStep, cpcSC), CYAN);
line(E, seq(0, recStep, recS), MAG);

// ---------- panel 6 : IEEE ----------
var F = panel({id:6, x0:161.5, x1:2642, y0:1114, y1:1404, xdom:[0,8], ydom:[-30,70],
               xt:recTicks, yt:ieeeTicks, xf:"d"});
line(F, seq(0, recStep, ieeeP), BLUE);
line(F, seq(0, recStep, ieeeP), BLUE, {dash:"12,10"});
line(F, seq(0, recStep, ieeeN), RED);
line(F, seq(0, recStep, ieeeQ1), RED, {dash:"8,7"});
line(F, seq(0, recStep, ieeeDI), BLK);
line(F, seq(0, recStep, ieeeDV), YEL);
line(F, seq(0, recStep, recS), MAG);

// ---------- titles, labels, legends ----------
svg.append("text").attr("x",732).attr("y",65).attr("text-anchor","middle").attr("font-size",27).text("transient #1");
svg.append("text").attr("x",2071.5).attr("y",65).attr("text-anchor","middle").attr("font-size",27).text("transient #2");
vlabel("u(t) [V]", 51, 218.5);
vlabel("i(t) [A]", 2739, 218.5);
vlabel("P [VA]", 88, 566);
vlabel("P [VA]", 1429, 566);
vlabel("CPC [VA]", 90, 912);
vlabel("IEEE [VA]", 69, 1259);
svg.append("text").attr("x",1401).attr("y",1459).attr("text-anchor","middle").attr("font-size",24).text("t [s]");

var dashU = "14,12";
legend({x:180, y:91, w:183, h:95, off:23, gap:44},
       [{l:"u(t)", c:BLUE, dash:dashU}, {l:"i(t)", c:RED}]);
legend({x:1519, y:91, w:183, h:95, off:23, gap:44},
       [{l:"u(t)", c:BLUE, dash:dashU}, {l:"i(t)", c:RED}]);
var pwItems = [{l:"S", c:MAG}, {l:"P cpc", c:BLUE}, {l:"P ieee", c:BLUE, dash:dashU}, {l:"Q cpc", c:RED}, {l:"SC cpc", c:CYAN}];
legend({x:179.5, y:436, w:241.5, h:230, off:25, gap:44.2}, pwItems);
legend({x:1518, y:436, w:240.5, h:230, off:25, gap:44.2}, pwItems);
legend({x:2457, y:783, w:168, h:224, off:25, gap:44},
       [{l:"P", c:BLUE}, {l:"Q", c:RED}, {l:"Ds", c:GREEN}, {l:"SC", c:CYAN}, {l:"S", c:MAG}]);
legend({x:2454, y:1130, w:171, h:312, off:24, gap:44.2},
       [{l:"P", c:BLUE}, {l:"P1", c:BLUE, dash:dashU}, {l:"N", c:RED}, {l:"Q1", c:RED, dash:dashU},
        {l:"DI", c:BLK}, {l:"DV", c:YEL}, {l:"S", c:MAG}]);
</script>
</body>
</html>
